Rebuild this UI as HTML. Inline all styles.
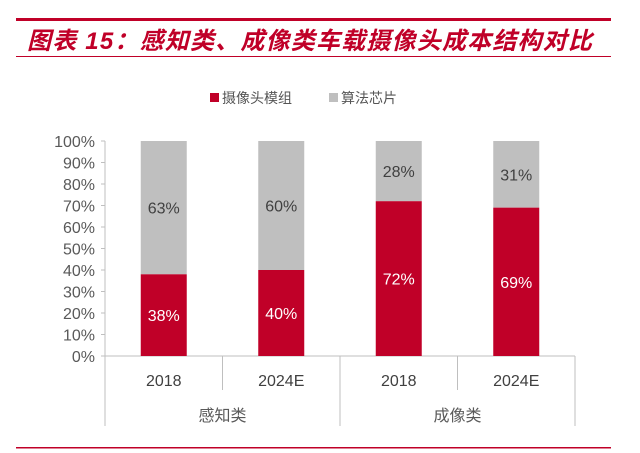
<!DOCTYPE html>
<html><head><meta charset="utf-8"><style>
body{margin:0;background:#fff;}
svg{display:block;font-family:"Liberation Sans","Noto Sans CJK SC",sans-serif;}
</style></head><body>
<svg width="640" height="453" viewBox="0 0 640 453">
<rect x="16" y="18" width="595" height="3" fill="#c00028"/>
<text x="27" y="49" font-size="24" font-style="italic" font-weight="bold" fill="#c00028" letter-spacing="1.2" font-family="'Liberation Sans','Noto Sans CJK SC',sans-serif">图表 15：感知类、成像类车载摄像头成本结构对比</text>
<rect x="16" y="56" width="595" height="1" fill="#c00028"/>
<g>
<rect x="210" y="93" width="9" height="9" fill="#c00028"/>
<text x="222" y="103" font-size="14" fill="#555">摄像头模组</text>
<rect x="329" y="93" width="9" height="9" fill="#bfbfbf"/>
<text x="341" y="103" font-size="14" fill="#555">算法芯片</text>
</g>
<g id="plot"></g>
<rect x="16" y="447" width="595" height="1.5" fill="#c00028"/>
</svg>
<script>
const categories=["2018","2024E","2018","2024E"];
const groups=["感知类","成像类"];
const moduleVals=[38,40,72,69];
const chipVals=[63,60,28,31];
const chipLabels=["63%","60%","28%","31%"];
const moduleLabels=["38%","40%","72%","69%"];
const yTicks=[0,10,20,30,40,50,60,70,80,90,100];
const NS="http://www.w3.org/2000/svg";
const g=document.getElementById('plot');
const x0=105,x1=575,y0=356,y1=141;
const bw=(x1-x0)/categories.length;
const y=v=>y0-(v/100)*(y0-y1);
function el(t,a){const e=document.createElementNS(NS,t);for(const k in a)e.setAttribute(k,a[k]);g.appendChild(e);return e;}
yTicks.forEach(t=>{
 const tx=el('text',{x:x0-10,y:y(t)+6,'font-size':16,fill:'#595959','text-anchor':'end'});
 tx.textContent=t+'%';
 
 
 const tk=el('line',{x1:x0-4,x2:x0,y1:y(t),y2:y(t),stroke:'#bfbfbf'});
 
 
});
const ya=el('line',{x1:x0,x2:x0,y1:y1,y2:y0,stroke:'#bfbfbf'});


const xa=el('line',{x1:x0,x2:x1,y1:y0,y2:y0,stroke:'#bfbfbf'});


categories.forEach((c,i)=>{
 const cx=x0+bw*(i+0.5),w=46;
 const gr=el('rect',{x:cx-w/2,y:y(100),width:w,height:y(moduleVals[i])-y(100),fill:'#bfbfbf'});
 
 
 const rd=el('rect',{x:cx-w/2,y:y(moduleVals[i]),width:w,height:y0-y(moduleVals[i]),fill:'#c00028'});
 
 
 const t1=el('text',{x:cx,y:(y(100)+y(moduleVals[i]))/2+6,'font-size':16,fill:'#404040','text-anchor':'middle'});
 t1.textContent=chipLabels[i];
 
 
 const t2=el('text',{x:cx,y:(y0+y(moduleVals[i]))/2+6,'font-size':16,fill:'#fff','text-anchor':'middle'});
 t2.textContent=moduleLabels[i];
 
 
 const cl=el('text',{x:cx,y:386,'font-size':16,fill:'#404040','text-anchor':'middle'});
 cl.textContent=c;
 
 
});
for(let i=0;i<=categories.length;i++){
 const xx=x0+bw*i;
 const big=i%2===0;
 const s=el('line',{x1:xx,x2:xx,y1:y0,y2:big?426:390,stroke:'#bfbfbf'});
 
 
}
groups.forEach((gname,j)=>{
 const t=el('text',{x:x0+bw*(2*j+1),y:421,'font-size':16,fill:'#595959','text-anchor':'middle'});
 t.textContent=gname;
 
 
});
</script>
</body></html>
